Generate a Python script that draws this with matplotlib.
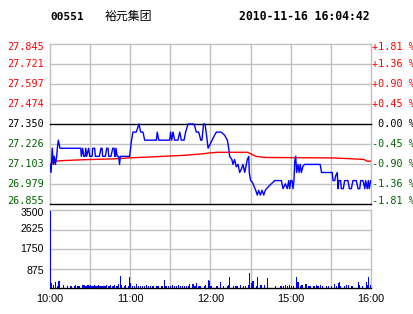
import matplotlib
matplotlib.use("Agg")
import matplotlib.pyplot as plt
from matplotlib.transforms import offset_copy

# ---------------- data ----------------
stock_code = "00551"
stock_name = "裕元集团"
timestamp = "2010-11-16 16:04:42"
prev_close = 27.350

price_levels = [27.845, 27.721, 27.597, 27.474, 27.350, 27.226, 27.103, 26.979, 26.855]
pct_labels = ["+1.81 %", "+1.36 %", "+0.90 %", "+0.45 %", " 0.00 %",
              "-0.45 %", "-0.90 %", "-1.36 %", "-1.81 %"]

time_ticks = [0, 60, 120, 180, 240]
time_labels = ["10:00", "11:00", "12:00", "15:00", "16:00"]

vol_ticks = [875, 1750, 2625, 3500]
vol_labels = ["875", "1750", "2625", "3500"]

# price line (minute index, price)
price_t = [0, 0.8, 1.7, 2.5, 3.2, 4, 5, 5.5, 6.2, 7, 7.5,
           23, 23.4, 24.4, 25.2, 26.2, 26.7, 27.4, 28.9, 29.7, 31.5, 31.9, 33.4, 33.9,
           36.9, 38.1, 38.9, 39.4, 41.4, 42.4, 43.4, 43.9, 45.6, 46.9, 47.9, 48.4,
           48.9, 49.3, 50.3, 51.3, 52, 52.6, 59.5,
           61, 62, 64.5, 66.5, 67.8, 69.5, 70.8, 79.5, 80.2, 81.3, 89.5, 90.2, 91,
           92, 93.2, 95.7, 97, 98.2, 100.2, 101.4, 103.2, 107.7, 109.4, 111.2,
           112.7, 113.6, 114.8, 115.9, 117.2, 118.2,
           120.6, 123, 124.4, 128, 130.6, 132.6, 133.6, 134.3, 136, 136.8, 138,
           139.3, 140.6, 141.8, 143, 144.3, 145.6, 147.5, 148.6, 149, 150, 151.3,
           152.5, 153.8, 155, 156, 157.3, 158.5, 159.8, 161, 163, 165.5, 168, 173,
           174.2, 176, 177.4, 178.5, 179.2, 180, 181, 181.7, 182.4, 183, 183.7,
           184.4, 185.4, 186.2, 187.1, 187.9, 189.2, 190.4, 202, 203, 211, 211.6,
           212.9, 213.6, 214.8, 215.3, 216, 217.3, 217.8, 219.3, 220.3, 222.8,
           223.8, 225.3, 226.5, 229, 230.3, 231.6, 232.3, 234, 235.4, 236, 237.2,
           238, 238.7, 239.7, 240]
price_v = [27.10, 27.05, 27.20, 27.10, 27.15, 27.10, 27.15, 27.20, 27.25, 27.22, 27.20,
           27.20, 27.15, 27.20, 27.15, 27.15, 27.20, 27.15, 27.20, 27.15, 27.15, 27.20, 27.20, 27.15,
           27.15, 27.20, 27.20, 27.15, 27.15, 27.20, 27.20, 27.15, 27.15, 27.20, 27.20, 27.15,
           27.15, 27.20, 27.15, 27.15, 27.10, 27.15, 27.15,
           27.25, 27.30, 27.30, 27.35, 27.30, 27.30, 27.25, 27.25, 27.30, 27.25, 27.25, 27.30, 27.25,
           27.30, 27.25, 27.25, 27.30, 27.25, 27.25, 27.30, 27.35, 27.35, 27.30, 27.30,
           27.25, 27.25, 27.35, 27.35, 27.27, 27.20,
           27.24, 27.28, 27.30, 27.30, 27.28, 27.25, 27.20, 27.15, 27.13, 27.10, 27.13,
           27.085, 27.10, 27.05, 27.07, 27.10, 27.05, 27.13, 27.15, 27.05, 27.00, 26.99,
           26.965, 26.94, 26.91, 26.94, 26.91, 26.94, 26.91, 26.94, 26.96, 26.98, 27.00, 27.00,
           26.95, 26.98, 26.95, 27.00, 26.95, 27.00, 27.00, 26.95, 27.00, 27.12, 27.15,
           27.05, 27.10, 27.05, 27.10, 27.05, 27.09, 27.10, 27.10, 27.05, 27.05, 27.00,
           27.00, 27.03, 27.05, 26.95, 27.00, 27.00, 26.95, 26.95, 27.00, 27.00,
           26.95, 26.95, 27.00, 27.00, 26.95, 26.95, 27.00, 27.00, 26.95, 27.00, 26.95,
           27.00, 26.95, 27.00, 27.00]

# average price line (minute index, price)
avg_t = [0, 4, 8, 25, 50, 58, 75, 100, 115, 118, 125, 148, 150, 154, 160, 212, 230, 235, 237, 240]
avg_v = [27.10, 27.12, 27.123, 27.129, 27.135, 27.14, 27.146, 27.156, 27.166, 27.17,
         27.175, 27.175, 27.165, 27.15, 27.143, 27.14, 27.133, 27.13, 27.12, 27.12]

# volume per minute
volume = [3450, 240, 150, 0, 270, 100, 330, 330, 0, 0,
          150, 0, 0, 100, 0, 110, 100, 0, 110, 150,
          110, 100, 110, 0, 120, 150, 110, 100, 130, 110,
          150, 110, 100, 150, 110, 100, 130, 100, 110, 100,
          110, 100, 130, 110, 100, 120, 110, 100, 150, 110,
          100, 200, 555, 120, 0, 100, 150, 0, 110, 495,
          225, 110, 0, 100, 180, 0, 100, 100, 0, 110,
          100, 0, 150, 100, 0, 100, 110, 100, 0, 110,
          100, 100, 0, 110, 100, 375, 100, 100, 110, 0,
          100, 150, 0, 110, 100, 0, 150, 100, 0, 110,
          100, 0, 110, 100, 195, 0, 195, 180, 100, 210,
          0, 100, 110, 0, 0, 100, 150, 0, 375, 330,
          100, 0, 0, 0, 100, 100, 0, 285, 0, 100,
          0, 0, 100, 150, 480, 0, 0, 100, 100, 100,
          100, 0, 150, 0, 110, 0, 100, 0, 150, 690,
          225, 300, 330, 0, 100, 480, 0, 130, 150, 0,
          130, 0, 435, 0, 0, 0, 0, 0, 100, 0,
          0, 0, 100, 100, 100, 0, 150, 100, 0, 150,
          100, 0, 100, 0, 480, 285, 0, 100, 150, 0,
          0, 200, 0, 100, 100, 0, 0, 100, 0, 150,
          100, 0, 150, 110, 0, 0, 100, 0, 100, 0,
          110, 0, 200, 0, 110, 210, 285, 100, 0, 0,
          100, 130, 0, 150, 0, 100, 100, 0, 0, 0,
          285, 150, 0, 110, 0, 0, 285, 150, 480, 130,
          100]
minutes = list(range(len(volume)))

# ---------------- styling ----------------
W, H = 414, 314
GRID = "#C0C0C0"
RED = "#FF0000"
GREEN = "#006400"
BLUE = "#0000FF"
MONO = "DejaVu Sans Mono"
SANS = "Liberation Sans"

fig = plt.figure(figsize=(W / 100, H / 100), dpi=100)
fig.patch.set_facecolor("white")


def rect(l, t, r, b):
    return [l / W, 1 - b / H, (r - l) / W, (b - t) / H]


ax = fig.add_axes(rect(50, 44, 371, 204))
axv = fig.add_axes(rect(50, 210, 371, 288))
for a in (ax, axv):
    a.set_axis_off()
    a.set_xlim(0, 240)

ax.set_ylim(price_levels[-1], price_levels[0])
axv.set_ylim(0, vol_ticks[-1])

grid_x = list(range(0, 241, 30))

# main chart grid and labels
for gx in grid_x:
    ax.axvline(gx, color=GRID, lw=1.0, clip_on=False, zorder=1)
n = len(price_levels)
for i, (lvl, lab) in enumerate(zip(price_levels, pct_labels)):
    is_black = abs(lvl - prev_close) < 1e-6 or i == n - 1
    ax.axhline(lvl, color="black" if is_black else GRID, lw=1.0, clip_on=False,
               zorder=2 if is_black else 1)
    if lvl > prev_close + 1e-6:
        col = RED
    elif abs(lvl - prev_close) < 1e-6:
        col = "black"
    else:
        col = GREEN
    dy = -2.5 if i == 0 else (2.5 if i == n - 1 else 0)  # points
    tr = offset_copy(ax.get_yaxis_transform(), fig=fig, x=0, y=dy, units="points")
    ax.text(-6 / 321, lvl, f"{lvl:.3f}", transform=tr,
            ha="right", va="center", color=col, fontfamily=MONO, fontsize=7.3)
    ax.text(1 + 1 / 321, lvl, lab, transform=tr,
            ha="left", va="center", color=col, fontfamily=MONO, fontsize=7.3)

ax.plot(avg_t, avg_v, color=RED, lw=1.0, zorder=3)
ax.plot(price_t, price_v, color=BLUE, lw=1.0, zorder=4)

# volume chart
for gx in grid_x:
    axv.axvline(gx, color=GRID, lw=1.0, clip_on=False, zorder=1)
for v, lab in zip(vol_ticks, vol_labels):
    axv.axhline(v, color=GRID, lw=1.0, clip_on=False, zorder=1)
    dy = -2.5 if v == vol_ticks[-1] else (-1.5 if v == vol_ticks[0] else 0)
    tr = offset_copy(axv.get_yaxis_transform(), fig=fig, x=0, y=dy, units="points")
    axv.text(-6 / 321, v, lab, transform=tr,
             ha="right", va="center", color="black", fontfamily=SANS, fontsize=7.6)
axv.axhline(0, color="black", lw=1.0, clip_on=False, zorder=3)
axv.bar(minutes, volume, width=0.8, align="edge", color=BLUE, linewidth=0, zorder=2)

for t, lab in zip(time_ticks, time_labels):
    axv.text(t, -11 / 78 * vol_ticks[-1], lab, ha="center", va="center",
             color="black", fontfamily=SANS, fontsize=7.8, clip_on=False)

# header
fig.text(50 / W, 1 - 16.5 / H, stock_code, fontfamily=MONO, fontweight="bold",
         fontsize=8.0, va="center", ha="left")
fig.text(105 / W, 1 - 16.5 / H, stock_name, fontfamily=["Noto Sans CJK SC", "DejaVu Sans"],
         fontsize=8.6, va="center", ha="left")
fig.text(370 / W, 1 - 16.5 / H, timestamp, fontfamily=MONO, fontweight="bold",
         fontsize=8.3, va="center", ha="right")

fig.savefig("out.png", dpi=100, facecolor="white")
